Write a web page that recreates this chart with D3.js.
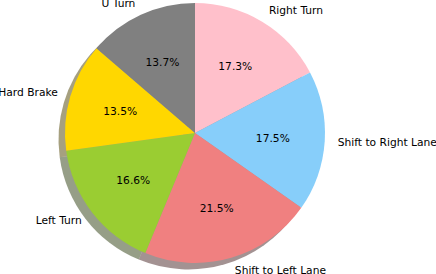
<!DOCTYPE html>
<html>
<head>
<meta charset="utf-8">
<script src="https://cdn.jsdelivr.net/npm/d3@7"></script>
<style>
  body { margin: 0; background: #fff; }
  text { font-family: "DejaVu Sans", sans-serif; font-size: 10.7px; fill: #000; }
</style>
</head>
<body>
<div id="chartContainer"></div>
<script>
const labels = ["Right Turn", "Shift to Right Lane", "Shift to Left Lane", "Left Turn", "Hard Brake", "U Turn"];
const shares = [17.3, 17.5, 21.5, 16.6, 13.5, 13.7];
const colors = ["#ffc0cb", "#87cefa", "#f08080", "#9acd32", "#ffd700", "#808080"];

const chartWidth = 436;
const chartHeight = 274;
const cx = 195, cy = 133, radius = 130;

const data = labels.map((l, i) => ({ label: l, value: shares[i], color: colors[i] }));
const total = d3.sum(shares);

const svg = d3.select("#chartContainer").append("svg")
  .attr("width", chartWidth)
  .attr("height", chartHeight);

const pie = d3.pie().sort(null).value(d => d.value);
const arcs = pie(data);
const arc = d3.arc().innerRadius(0).outerRadius(radius);

// shadow: 0.3 * face colour, half transparent, shifted down-left
const shadow = svg.append("g").attr("transform", `translate(${cx - 6.5}, ${cy + 6.5})`);
shadow.selectAll("path")
  .data(arcs)
  .enter().append("path")
  .attr("d", arc)
  .style("fill", d => {
    const c = d3.rgb(d.data.color);
    return d3.rgb(c.r * 0.3, c.g * 0.3, c.b * 0.3);
  })
  .style("opacity", 0.5);

const g = svg.append("g").attr("transform", `translate(${cx}, ${cy})`);

g.selectAll(".wedge")
  .data(arcs)
  .enter().append("path")
  .attr("class", "wedge")
  .attr("d", arc)
  .style("fill", d => d.data.color);

// outer labels at 1.1 * radius
g.selectAll(".lbl")
  .data(arcs)
  .enter().append("text")
  .attr("class", "lbl")
  .each(function(d) {
    const a = (d.startAngle + d.endAngle) / 2;
    const x = Math.sin(a) * radius * 1.1;
    const y = -Math.cos(a) * radius * 1.1;
    d3.select(this)
      .attr("x", x)
      .attr("y", y)
      .attr("dy", "0.35em")
      .attr("text-anchor", x > 0 ? "start" : "end")
      .text(d.data.label);
  });

// percentages at 0.6 * radius
g.selectAll(".pct")
  .data(arcs)
  .enter().append("text")
  .attr("class", "pct")
  .attr("x", d => Math.sin((d.startAngle + d.endAngle) / 2) * radius * 0.6)
  .attr("y", d => -Math.cos((d.startAngle + d.endAngle) / 2) * radius * 0.6)
  .attr("dy", "0.35em")
  .attr("text-anchor", "middle")
  .text(d => (d.data.value / total * 100).toFixed(1) + "%");
</script>
</body>
</html>
